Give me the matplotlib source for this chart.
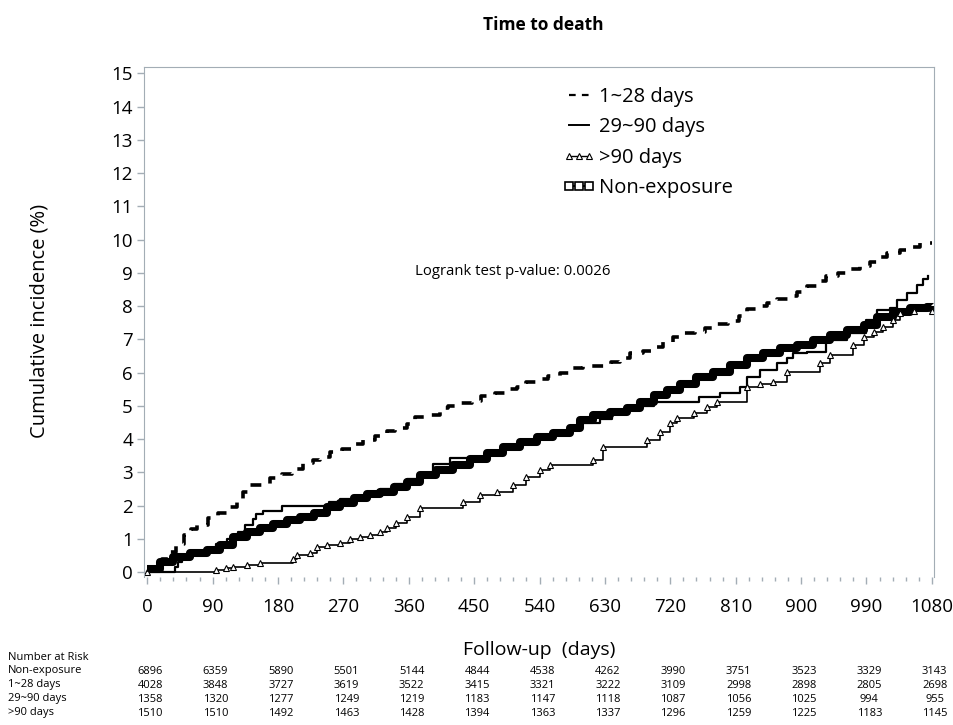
import matplotlib
matplotlib.use("Agg")
import matplotlib.pyplot as plt
import matplotlib.transforms as mtransforms
from matplotlib.lines import Line2D

plt.rcParams['font.family'] = ['Open Sans', 'DejaVu Sans']

# cumulative incidence (%), step points
d28_days = [0, 10, 20, 31, 40, 50, 60, 68, 84, 98,
            112, 123, 132, 139, 153, 169, 185, 199, 215, 228,
            238, 252, 268, 284, 297, 313, 330, 341, 357, 369,
            385, 403, 414, 430, 447, 460, 479, 495, 509, 522,
            536, 552, 568, 584, 600, 623, 639, 651, 665, 683,
            697, 710, 724, 738, 754, 768, 784, 800, 814, 825,
            839, 853, 867, 883, 894, 908, 922, 935, 951, 965,
            981, 995, 1009, 1018, 1036, 1050, 1064, 1080]
d28_vals = [0.05, 0.2, 0.4, 0.61, 0.85, 1.11, 1.3, 1.41, 1.63, 1.76,
            1.95, 2.17, 2.4, 2.62, 2.62, 2.84, 2.95, 3.10, 3.27, 3.38,
            3.47, 3.62, 3.69, 3.84, 3.97, 4.09, 4.24, 4.32, 4.45, 4.65,
            4.72, 4.92, 4.99, 5.09, 5.14, 5.30, 5.37, 5.49, 5.57, 5.72,
            5.80, 5.89, 6.0, 6.13, 6.20, 6.20, 6.33, 6.43, 6.58, 6.65,
            6.78, 6.93, 7.08, 7.18, 7.23, 7.33, 7.45, 7.55, 7.70, 7.90,
            8.0, 8.10, 8.20, 8.30, 8.43, 8.60, 8.75, 8.90, 9.0, 9.10,
            9.20, 9.33, 9.48, 9.60, 9.68, 9.78, 9.90, 9.90]

d90_days = [0, 38, 42, 48, 60, 80, 95, 110, 125, 135,
            145, 150, 160, 185, 250, 265, 284, 302, 320, 339,
            357, 375, 394, 417, 451, 467, 490, 513, 536, 559,
            582, 596, 623, 640, 660, 678, 697, 760, 788, 816,
            825, 843, 867, 880, 889, 908, 935, 963, 990, 1004,
            1022, 1032, 1046, 1059, 1068, 1075]
d90_vals = [0, 0.15, 0.3, 0.45, 0.55, 0.65, 0.85, 1.0, 1.2, 1.4,
            1.6, 1.75, 1.85, 2.0, 2.1, 2.2, 2.3, 2.4, 2.5, 2.65,
            2.8, 2.95, 3.24, 3.42, 3.45, 3.55, 3.7, 3.85, 4.0, 4.15,
            4.3, 4.49, 4.6, 4.75, 4.9, 5.0, 5.12, 5.27, 5.37, 5.57,
            5.87, 6.08, 6.28, 6.43, 6.58, 6.63, 6.98, 7.18, 7.58, 7.88,
            7.93, 8.18, 8.38, 8.63, 8.80, 8.90]

g90_days = [0, 95, 109, 118, 137, 155, 201, 206, 224, 233,
            247, 265, 279, 293, 307, 320, 330, 343, 357, 375,
            435, 458, 481, 504, 522, 541, 554, 614, 628, 688,
            706, 720, 729, 752, 770, 784, 825, 843, 862, 880,
            926, 940, 972, 986, 1000, 1013, 1027, 1036, 1055, 1080]
g90_vals = [0, 0.06, 0.11, 0.16, 0.21, 0.28, 0.40, 0.51, 0.56, 0.76,
            0.81, 0.86, 0.98, 1.06, 1.11, 1.21, 1.31, 1.46, 1.66, 1.93,
            2.11, 2.32, 2.42, 2.62, 2.87, 3.07, 3.22, 3.37, 3.77, 3.97,
            4.22, 4.47, 4.62, 4.79, 4.97, 5.12, 5.57, 5.67, 5.72, 6.02,
            6.28, 6.53, 6.83, 7.08, 7.23, 7.38, 7.58, 7.78, 7.85, 7.85]

ne_days = [0, 17, 36, 59, 82, 100, 118, 137, 155, 173,
           192, 210, 229, 247, 265, 284, 302, 320, 339, 357,
           375, 398, 421, 444, 467, 490, 513, 536, 559, 582,
           596, 614, 637, 660, 678, 697, 715, 733, 756, 779,
           802, 825, 848, 871, 894, 917, 940, 963, 986, 1004,
           1027, 1050, 1073, 1083]
ne_vals = [0.1, 0.31, 0.46, 0.58, 0.66, 0.81, 1.04, 1.21, 1.31, 1.44,
           1.56, 1.66, 1.76, 1.95, 2.08, 2.22, 2.35, 2.42, 2.57, 2.72,
           2.92, 3.07, 3.22, 3.39, 3.59, 3.77, 3.92, 4.07, 4.19, 4.32,
           4.57, 4.72, 4.82, 4.92, 5.12, 5.32, 5.47, 5.67, 5.87, 6.02,
           6.23, 6.43, 6.58, 6.73, 6.83, 6.98, 7.13, 7.28, 7.43, 7.66,
           7.83, 7.93, 7.98, 8.0]

risk_days = [0, 90, 180, 270, 360, 450, 540, 630, 720, 810, 900, 990, 1080]
risk_groups = ["Non-exposure", "1~28 days", "29~90 days", ">90 days"]
risk_ne = [6896, 6359, 5890, 5501, 5144, 4844, 4538, 4262, 3990, 3751, 3523, 3329, 3143]
risk_28 = [4028, 3848, 3727, 3619, 3522, 3415, 3321, 3222, 3109, 2998, 2898, 2805, 2698]
risk_90 = [1358, 1320, 1277, 1249, 1219, 1183, 1147, 1118, 1087, 1056, 1025, 994, 955]
risk_g90 = [1510, 1510, 1492, 1463, 1428, 1394, 1363, 1337, 1296, 1259, 1225, 1183, 1145]

fig = plt.figure(figsize=(9.54, 7.25), dpi=100)
ax = fig.add_axes([144/954, 1 - 577/725, 790/954, 510/725])

grey = '#a3adb5'

ax.plot(ne_days, ne_vals, drawstyle='steps-post', color='black', lw=5.8,
        solid_joinstyle='round', solid_capstyle='butt')
ax.plot(d90_days, d90_vals, drawstyle='steps-post', color='black', lw=1.6)
ax.plot(g90_days, g90_vals, drawstyle='steps-post', color='black', lw=1.2,
        marker='^', ms=4.5, mfc='white', mec='black', mew=0.8)
ax.plot(d28_days, d28_vals, drawstyle='steps-post', color='black', lw=2.6,
        linestyle=(0, (3, 2.8)))

ax.set_xlim(-4.5, 1083)
ax.set_ylim(-0.15, 15.19)
ax.set_xticks(range(0, 1081, 90))
ax.set_xticks(range(0, 1081, 18), minor=True)
ax.set_yticks(range(0, 16))
ax.tick_params(axis='both', which='major', direction='out', color=grey,
               labelsize=13.5, length=5, width=1)
ax.tick_params(axis='x', which='minor', direction='out', color=grey, length=3, width=1)
ax.tick_params(axis='x', pad=10)
ax.tick_params(axis='y', pad=3)
for side in ['left', 'top', 'right']:
    ax.spines[side].set_color(grey)
ax.spines['bottom'].set_visible(False)

ax.text(368, 9.05, "Logrank test p-value: 0.0026", fontsize=10.7, va='center')

handles = [
    Line2D([], [], color='black', lw=1.6, linestyle=(0, (3, 2.8))),
    Line2D([], [], color='black', lw=1.4),
    Line2D([], [], color='black', lw=1.0, marker='^', ms=5, mfc='white', mec='black', mew=0.8),
    Line2D([], [], color='black', lw=1.4, marker='s', ms=6, mfc='white', mec='black', mew=1.2),
]
ax.legend(handles, ["1~28 days", "29~90 days", ">90 days", "Non-exposure"],
          loc='upper left', bbox_to_anchor=((563 - 144) / 790, (577 - 87) / 510),
          frameon=False, fontsize=14.5, handlelength=1.6, handletextpad=0.2,
          labelspacing=0.52, borderpad=0, borderaxespad=0, numpoints=3)

fig.text(543/954, 1 - 25/725, "Time to death", fontsize=12.5, fontweight='bold',
         ha='center', va='center')
fig.text(40/954, 1 - 321/725, "Cumulative incidence (%)", fontsize=14.5,
         rotation=90, ha='center', va='center')
fig.text(539/954, 1 - 650/725, "Follow-up  (days)", fontsize=14,
         ha='center', va='center')

# number at risk table
trans = mtransforms.blended_transform_factory(ax.transData, fig.transFigure)
fig.text(8/954, 1 - 658/725, "Number at Risk", fontsize=8, va='center')
rows = [risk_ne, risk_28, risk_90, risk_g90]
row_y = [671, 685, 699, 713]
for name, vals, y in zip(risk_groups, rows, row_y):
    fig.text(8/954, 1 - y/725, name, fontsize=8, va='center')
    for d, v in zip(risk_days, vals):
        ax.text(d + 4, 1 - y/725, str(v), transform=trans, fontsize=8,
                ha='center', va='center', clip_on=False)

fig.savefig("out.png", dpi=100)
